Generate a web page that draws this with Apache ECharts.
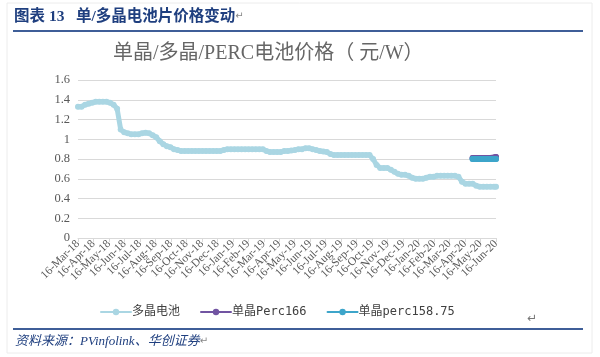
<!DOCTYPE html>
<html>
<head>
<meta charset="utf-8">
<script src="https://cdn.jsdelivr.net/npm/echarts@6/dist/echarts.min.js"></script>
<style>html,body{margin:0;padding:0;background:#fff;}#c{width:600px;height:357px;}</style>
</head>
<body>
<div id="c"></div>
<script>
// ---- data ----
const monthLabels = ['16-Mar-18','16-Apr-18','16-May-18','16-Jun-18','16-Jul-18','16-Aug-18','16-Sep-18','16-Oct-18','16-Nov-18','16-Dec-18',
  '16-Jan-19','16-Feb-19','16-Mar-19','16-Apr-19','16-May-19','16-Jun-19','16-Jul-19','16-Aug-19','16-Sep-19','16-Oct-19','16-Nov-19','16-Dec-19',
  '16-Jan-20','16-Feb-20','16-Mar-20','16-Apr-20','16-May-20','16-Jun-20'];
const axisStart = '2018-03-16';
const axisEnd = '2020-06-16';

const polyDates = [
  '2018-03-16','2018-03-23','2018-03-30',
  '2018-04-06','2018-04-13','2018-04-20','2018-04-27',
  '2018-05-04','2018-05-11','2018-05-18','2018-05-25',
  '2018-06-01','2018-06-08','2018-06-15','2018-06-22','2018-06-29',
  '2018-07-06','2018-07-13','2018-07-20','2018-07-27',
  '2018-08-03','2018-08-10','2018-08-17','2018-08-24','2018-08-31',
  '2018-09-07','2018-09-14','2018-09-21','2018-09-28',
  '2018-10-05','2018-10-12','2018-10-19','2018-10-26',
  '2018-11-02','2018-11-09','2018-11-16','2018-11-23','2018-11-30',
  '2018-12-07','2018-12-14','2018-12-21','2018-12-28',
  '2019-01-04','2019-01-11','2019-01-18','2019-01-25',
  '2019-02-01','2019-02-08','2019-02-15','2019-02-22',
  '2019-03-01','2019-03-08','2019-03-15','2019-03-22','2019-03-29',
  '2019-04-05','2019-04-12','2019-04-19','2019-04-26',
  '2019-05-03','2019-05-10','2019-05-17','2019-05-24','2019-05-31',
  '2019-06-07','2019-06-14','2019-06-21','2019-06-28',
  '2019-07-05','2019-07-12','2019-07-19','2019-07-26',
  '2019-08-02','2019-08-09','2019-08-16','2019-08-23','2019-08-30',
  '2019-09-06','2019-09-13','2019-09-20','2019-09-27',
  '2019-10-04','2019-10-11','2019-10-18','2019-10-25',
  '2019-11-01','2019-11-08','2019-11-15','2019-11-22','2019-11-29',
  '2019-12-06','2019-12-13','2019-12-20','2019-12-27',
  '2020-01-03','2020-01-10','2020-01-17','2020-01-24','2020-01-31',
  '2020-02-07','2020-02-14','2020-02-21','2020-02-28',
  '2020-03-06','2020-03-13','2020-03-20','2020-03-27',
  '2020-04-03','2020-04-10','2020-04-17','2020-04-24',
  '2020-05-01','2020-05-08','2020-05-15','2020-05-22','2020-05-29',
  '2020-06-05','2020-06-12','2020-06-16'
];
const polyValues = [
  1.33,1.33,1.35,
  1.36,1.37,1.38,1.38,
  1.38,1.38,1.37,1.35,
  1.31,1.10,1.07,1.06,1.05,
  1.05,1.05,1.06,1.065,
  1.06,1.04,1.02,0.98,0.95,
  0.93,0.92,0.90,0.89,
  0.88,0.88,0.88,0.88,
  0.88,0.88,0.88,0.88,0.88,
  0.88,0.88,0.88,0.89,
  0.90,0.90,0.90,0.90,
  0.90,0.90,0.90,0.90,
  0.90,0.90,0.90,0.88,0.87,
  0.87,0.87,0.87,0.88,
  0.88,0.885,0.89,0.90,0.90,
  0.91,0.91,0.90,0.89,
  0.88,0.875,0.87,0.85,
  0.84,0.84,0.84,0.84,0.84,
  0.84,0.84,0.84,0.84,
  0.84,0.84,0.80,0.74,
  0.71,0.71,0.71,0.69,0.67,
  0.65,0.64,0.64,0.63,
  0.61,0.60,0.60,0.60,0.61,
  0.62,0.62,0.63,0.63,
  0.63,0.63,0.63,0.63,
  0.62,0.57,0.55,0.55,
  0.55,0.53,0.52,0.52,0.52,
  0.52,0.52,0.52
];
const percDates = ['2020-05-01','2020-05-08','2020-05-15','2020-05-22','2020-05-29','2020-06-05','2020-06-12','2020-06-16'];
const perc166Values = [0.81,0.81,0.81,0.81,0.81,0.81,0.815,0.82];
const perc158Values = [0.80,0.80,0.80,0.80,0.80,0.80,0.80,0.80];
const seriesNames = ['多晶电池','单晶Perc166','单晶perc158.75'];
const yTicks = [0,0.2,0.4,0.6,0.8,1,1.2,1.4,1.6];

// ---- chart ----
const chart = echarts.init(document.getElementById('c'), null, {renderer:'canvas'});
const zip = (ds, vs) => ds.map((d, i) => [d, vs[i]]);
const serifCJK = '"Liberation Serif","Noto Sans CJK SC",serif';

chart.setOption({
  animation: false,
  backgroundColor: '#ffffff',
  grid: {left: 78, right: 104, top: 80, bottom: 119, containLabel: false},
  xAxis: [
    {type: 'time', position: 'top', min: axisStart, max: axisEnd, show: false},
    {type: 'category', position: 'bottom', data: monthLabels, boundaryGap: false,
     axisLine: {show: true, lineStyle: {color: '#d9d9d9', width: 1}},
     axisTick: {show: true, length: 4, interval: 0, lineStyle: {color: '#d9d9d9'}},
     axisLabel: {interval: 0, rotate: 45, fontSize: 11.5, color: '#595959', margin: 4, fontFamily: '"Liberation Serif",serif'},
     splitLine: {show: false}}
  ],
  yAxis: {
    type: 'value', min: yTicks[0], max: yTicks[yTicks.length - 1], interval: 0.2,
    axisLine: {show: false}, axisTick: {show: false},
    axisLabel: {fontSize: 12.5, color: '#595959', margin: 8, fontFamily: '"Liberation Serif",serif'},
    splitLine: {lineStyle: {color: '#d9d9d9', width: 1}}
  },
  legend: {
    left: 95, top: 301, itemGap: 20, itemWidth: 30, itemHeight: 8,
    data: seriesNames,
    textStyle: {fontSize: 12, color: '#404040', fontFamily: '"DejaVu Sans Mono","Noto Sans CJK SC",monospace', padding: [0,0,0,-4]}
  },
  series: [
    {name: seriesNames[0], type: 'line', xAxisIndex: 0, data: zip(polyDates, polyValues),
     color: '#aad6e3', symbol: 'circle', symbolSize: 6, showSymbol: true,
     lineStyle: {width: 5, cap: 'round', join: 'round'}, itemStyle: {color: '#aad6e3'}, z: 2},
    {name: seriesNames[1], type: 'line', xAxisIndex: 0, data: zip(percDates, perc166Values),
     color: '#7154a2', symbol: 'circle', symbolSize: 6,
     lineStyle: {width: 6, cap: 'round', join: 'round'}, itemStyle: {color: '#7154a2'}, z: 3},
    {name: seriesNames[2], type: 'line', xAxisIndex: 0, data: zip(percDates, perc158Values),
     color: '#3da5ca', symbol: 'circle', symbolSize: 6,
     lineStyle: {width: 6, cap: 'round', join: 'round'}, itemStyle: {color: '#3da5ca'}, z: 4}
  ],
  graphic: [
    {type: 'rect', shape: {x: 7, y: 3, width: 585, height: 350}, style: {fill: 'none', stroke: '#ececec', lineWidth: 1}, silent: true},
    {type: 'text', left: 14, top: 9, style: {
      text: '{a|图表 13   单/多晶电池片价格变动}{b|↵}',
      rich: {
        a: {fontSize: 15.5, fontWeight: 'bold', fill: '#1f3f7f', fontFamily: serifCJK},
        b: {fontSize: 10, fill: '#888888', fontFamily: '"DejaVu Sans",sans-serif'}
      }}},
    {type: 'line', shape: {x1: 13, y1: 31, x2: 583, y2: 31}, style: {stroke: '#3f5e98', lineWidth: 2}},
    {type: 'text', left: 113, top: 44, style: {
      text: '单晶/多晶/PERC电池价格（ 元/W）', fontSize: 20, fill: '#666666', fontFamily: serifCJK}},
    {type: 'text', left: 527, top: 313, style: {text: '↵', fontSize: 12, fill: '#777777', fontFamily: '"DejaVu Sans",sans-serif'}},
    {type: 'line', shape: {x1: 13, y1: 329, x2: 583, y2: 329}, style: {stroke: '#3f5e98', lineWidth: 2}},
    {type: 'text', left: 15, top: 335, style: {
      text: '{a|资料来源：PVinfolink、华创证券}{b|↵}',
      rich: {
        a: {fontSize: 13, fontStyle: 'italic', fill: '#1f3f7f', fontFamily: serifCJK},
        b: {fontSize: 10, fill: '#888888', fontFamily: '"DejaVu Sans",sans-serif'}
      }}}
  ]
});
</script>
</body>
</html>
